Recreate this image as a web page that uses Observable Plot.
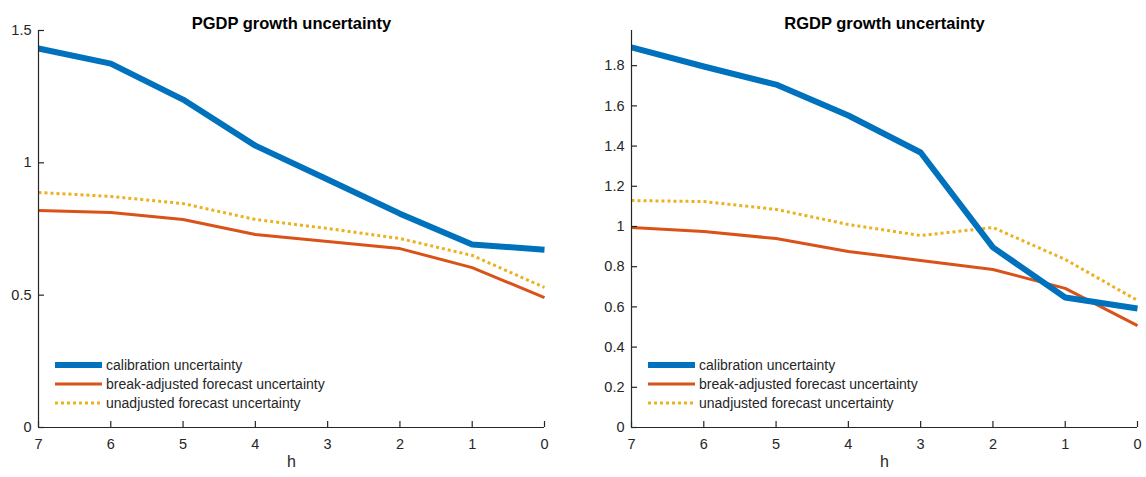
<!DOCTYPE html>
<html>
<head>
<meta charset="utf-8">
<script src="https://cdn.jsdelivr.net/npm/d3@7"></script>
<script src="https://cdn.jsdelivr.net/npm/@observablehq/plot@0.6"></script>
<style>
  html, body { margin: 0; padding: 0; background: #fff; }
  #wrap { position: relative; width: 1146px; height: 477px; display: flex; font-family: "Liberation Sans", Arial, sans-serif; }
  .panel { position: relative; width: 573px; height: 477px; }
  .legend { position: absolute; font-size: 14px; color: #262626; }
  .legend .row { display: flex; align-items: center; height: 19.3px; }
  .legend svg { margin-right: 4px; }
</style>
</head>
<body>
<div id="wrap"></div>
<script>
const horizons = [7, 6, 5, 4, 3, 2, 1, 0];
const seriesNames = ["calibration uncertainty", "break-adjusted forecast uncertainty", "unadjusted forecast uncertainty"];

// PGDP panel
const pgdpCalibration = [1.432, 1.375, 1.239, 1.065, 0.937, 0.808, 0.691, 0.672];
const pgdpBreakAdjusted = [0.820, 0.812, 0.786, 0.729, 0.703, 0.676, 0.604, 0.491];
const pgdpUnadjusted = [0.888, 0.873, 0.846, 0.786, 0.752, 0.714, 0.650, 0.529];
const pgdpYTicks = [0, 0.5, 1, 1.5];

// RGDP panel
const rgdpCalibration = [1.891, 1.796, 1.706, 1.552, 1.368, 0.896, 0.647, 0.592];
const rgdpBreakAdjusted = [0.995, 0.975, 0.940, 0.876, 0.831, 0.786, 0.692, 0.507];
const rgdpUnadjusted = [1.129, 1.124, 1.085, 1.010, 0.955, 0.995, 0.836, 0.632];
const rgdpYTicks = [0, 0.2, 0.4, 0.6, 0.8, 1, 1.2, 1.4, 1.6, 1.8];

const styles = [
  {stroke: "#0072BD", strokeWidth: 6, dash: null},
  {stroke: "#D95319", strokeWidth: 3, dash: null},
  {stroke: "#EDB120", strokeWidth: 3, dash: "3,3"}
];

const W = 573, H = 477, MT = 30, MB = 50;
const FONT = "'Liberation Sans', Arial, sans-serif";
const TICK = 6;
const AXIS = "#262626";

function makePanel({title, series, yDomain, yTicks, marginLeft, marginRight}) {
  const lineMarks = series.map((vals, i) => {
    const data = horizons.map((h, j) => ({h, v: vals[j]}));
    return Plot.line(data, {
      x: "h", y: "v",
      stroke: styles[i].stroke,
      strokeWidth: styles[i].strokeWidth,
      strokeDasharray: styles[i].dash,
      strokeLinecap: "butt",
      strokeLinejoin: "round"
    });
  });
  const plot = Plot.plot({
    width: W,
    height: H,
    marginLeft, marginRight,
    marginTop: MT,
    marginBottom: MB,
    style: {fontFamily: FONT, color: AXIS, background: "white"},
    x: {domain: [7, 0], ticks: horizons, label: null},
    y: {domain: yDomain, ticks: yTicks, label: null},
    marks: [
      ...lineMarks.reverse(),
      Plot.ruleX([7], {stroke: AXIS, strokeWidth: 1.2}),
      Plot.ruleY([0], {stroke: AXIS, strokeWidth: 1.2}),
      // inward tick marks
      Plot.ruleX(horizons, {x: d => d, y1: 0, y2: 0, insetTop: -TICK, stroke: AXIS, strokeWidth: 1.2}),
      Plot.ruleY(yTicks, {y: d => d, x1: 7, x2: 7, insetRight: -TICK, stroke: AXIS, strokeWidth: 1.2}),
      // tick labels
      Plot.axisX({ticks: horizons, tickSize: 0, tickPadding: 11, fill: AXIS, fontSize: 14.5, tickFormat: d => String(d)}),
      Plot.axisY({ticks: yTicks, tickSize: 0, tickPadding: 7, fill: AXIS, fontSize: 14.5, tickFormat: d => String(d)}),
      Plot.text([title], {frameAnchor: "top", dy: -13, fill: "black", fontSize: 16.5, fontWeight: "bold"}),
      Plot.text(["h"], {frameAnchor: "bottom", dy: 39, fill: AXIS, fontSize: 16})
    ]
  });
  const panel = document.createElement("div");
  panel.className = "panel";
  panel.appendChild(plot);
  const legend = document.createElement("div");
  legend.className = "legend";
  legend.style.left = (marginLeft + 17) + "px";
  legend.style.top = "355px";
  seriesNames.forEach((name, i) => {
    const row = document.createElement("div");
    row.className = "row";
    const s = styles[i];
    row.innerHTML = `<svg width="47" height="8"><line x1="0" x2="47" y1="4" y2="4" stroke="${s.stroke}" stroke-width="${s.strokeWidth}" ${s.dash ? `stroke-dasharray="${s.dash}"` : ""}/></svg><span>${name}</span>`;
    legend.appendChild(row);
  });
  panel.appendChild(legend);
  return panel;
}

const wrap = document.getElementById("wrap");
wrap.appendChild(makePanel({
  title: "PGDP growth uncertainty",
  series: [pgdpCalibration, pgdpBreakAdjusted, pgdpUnadjusted],
  yDomain: [0, 1.5], yTicks: pgdpYTicks, marginLeft: 38, marginRight: 29
}));
wrap.appendChild(makePanel({
  title: "RGDP growth uncertainty",
  series: [rgdpCalibration, rgdpBreakAdjusted, rgdpUnadjusted],
  yDomain: [0, 1.975], yTicks: rgdpYTicks, marginLeft: 58, marginRight: 9
}));
</script>
</body>
</html>
